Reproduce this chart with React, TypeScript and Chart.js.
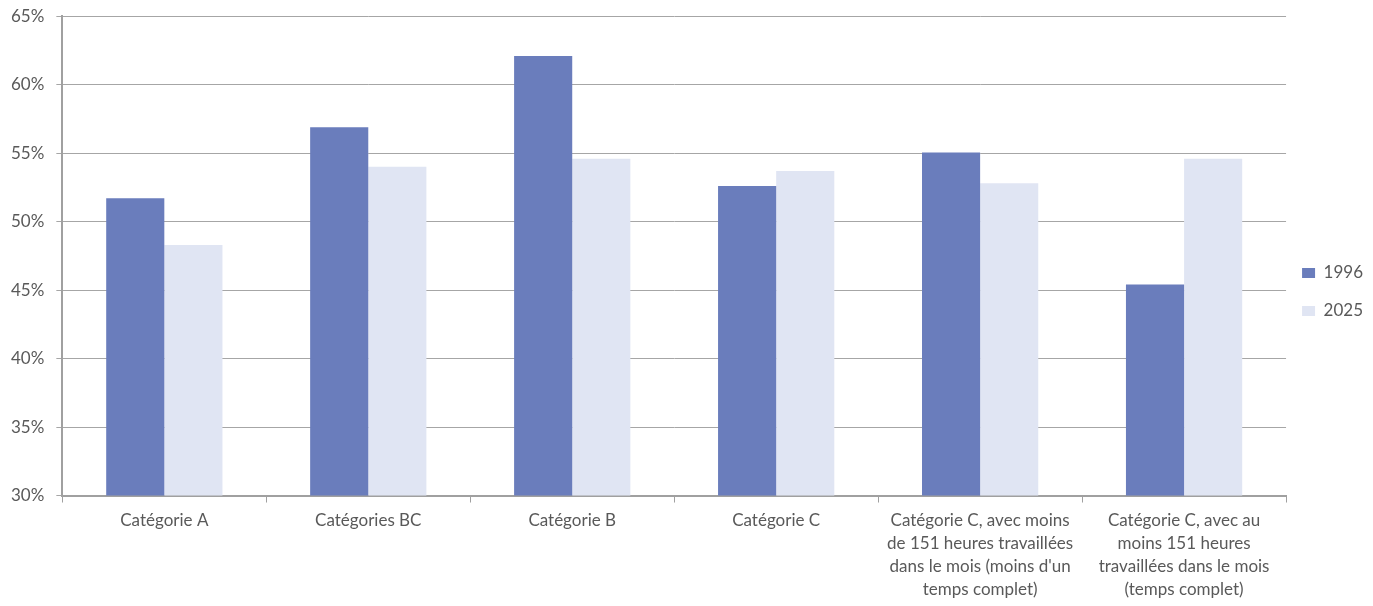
import React, { useEffect, useRef } from "react";
import { Chart, registerables } from "chart.js";

Chart.register(...registerables);

const categories: string[][] = [
  ["Catégorie A"],
  ["Catégories BC"],
  ["Catégorie B"],
  ["Catégorie C"],
  ["Catégorie C, avec moins", "de 151 heures travaillées", "dans le mois (moins d'un", "temps complet)"],
  ["Catégorie C, avec au", "moins 151 heures", "travaillées dans le mois", "(temps complet)"],
];
const values1996 = [51.7, 56.9, 62.1, 52.6, 55.05, 45.4];
const values2025 = [48.3, 54.0, 54.6, 53.7, 52.8, 54.6];
const seriesLabels = ["1996", "2025"];

const FONT = "Lato, 'Open Sans', sans-serif";

export default function App() {
  const ref = useRef<HTMLCanvasElement | null>(null);
  useEffect(() => {
    if (!ref.current) return;
    const chart = new Chart(ref.current, {
      type: "bar",
      data: {
        labels: categories,
        datasets: [
          {
            label: seriesLabels[0],
            data: values1996,
            backgroundColor: "#6a7dbc",
            borderWidth: 0,
          },
          {
            label: seriesLabels[1],
            data: values2025,
            backgroundColor: "#e0e5f3",
            borderWidth: 0,
          },
        ],
      },
      options: {
        animation: false,
        responsive: true,
        maintainAspectRatio: false,
        layout: { padding: { top: 0, right: 0, left: 0, bottom: 9 } },
        datasets: { bar: { barPercentage: 1, categoryPercentage: 0.57 } },
        plugins: {
          legend: {
            position: "right",
            title: {
              display: true,
              text: "",
              font: { size: 12, lineHeight: 1 },
              padding: -12,
            },
            labels: {
              boxWidth: 13,
              boxHeight: 10,
              padding: 16,
              color: "#595959",
              font: { family: FONT, size: 17, lineHeight: "22px" },
              generateLabels: (c: any) =>
                Chart.defaults.plugins.legend.labels
                  .generateLabels(c)
                  .map((it: any) => ({ ...it, text: [it.text] })),
            },
          },
          tooltip: { enabled: false },
        },
        scales: {
          x: {
            grid: {
              display: true,
              drawOnChartArea: false,
              offset: true,
              tickLength: 7,
              color: "#a0a0a0",
            },
            border: { color: "#a0a0a0", width: 2 },
            ticks: {
              color: "#595959",
              font: { family: FONT, size: 17, lineHeight: 1.36 },
              maxRotation: 0,
              autoSkip: false,
              padding: 6,
            },
          },
          y: {
            min: 30,
            max: 65,
            grid: { color: "#a6a6a6", lineWidth: 1, tickLength: 6 },
            border: { color: "#a0a0a0", width: 2 },
            ticks: {
              stepSize: 5,
              color: "#595959",
              font: { family: FONT, size: 17 },
              padding: 12,
              callback: (v: any) => `${v}%`,
            },
          },
        },
      },
    });
    return () => chart.destroy();
  }, []);
  return (
    <div
      style={{
        position: "fixed",
        left: 0,
        top: 0,
        width: 1373,
        height: 606,
        overflow: "hidden",
      }}
    >
      <div
        style={{
          position: "absolute",
          left: -1,
          top: -6,
          width: 1374,
          height: 622,
        }}
      >
        <canvas ref={ref} />
      </div>
    </div>
  );
}
